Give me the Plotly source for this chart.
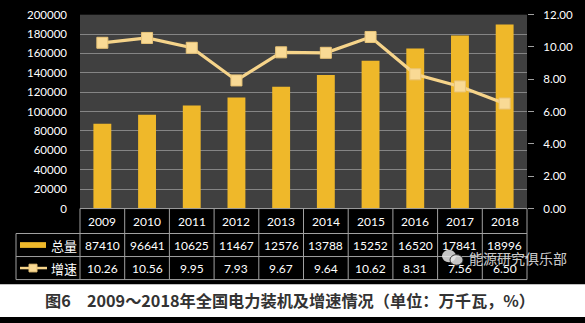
import plotly.graph_objects as go

W, H = 585, 323

years = ["2009", "2010", "2011", "2012", "2013", "2014", "2015", "2016", "2017", "2018"]
capacity = [87410, 96641, 106253, 114676, 125768, 137887, 152527, 165200, 178410, 189960]
growth = [10.26, 10.56, 9.95, 7.93, 9.67, 9.64, 10.62, 8.31, 7.56, 6.50]
left_ticks = [0, 20000, 40000, 60000, 80000, 100000, 120000, 140000, 160000, 180000, 200000]
right_ticks = [0, 2, 4, 6, 8, 10, 12]

# pixel geometry of the plot frame and table
PX_L, PX_R, PX_T, PX_B = 80, 527, 8, 210
ROW_Y = [210, 236, 260, 284]
TABLE_L = 16
BLACK_B = 289

def px(x):
    return x / W

def py(y):
    return 1 - y / H

BAR = "#EFB82A"
LINE = "#F6D48A"
FONT = "Lato, 'Open Sans', sans-serif"
CJK = "Noto Sans CJK SC"

fig = go.Figure()
fig.add_trace(go.Bar(
    x=years, y=capacity, marker=dict(color=BAR, line=dict(width=0)),
    width=0.4, yaxis="y", showlegend=False,
))
fig.add_trace(go.Scatter(
    x=years, y=growth, yaxis="y2", mode="lines+markers",
    line=dict(color=LINE, width=3.2),
    marker=dict(symbol="square", size=11, color="#F9DA95",
                line=dict(color="#E8C478", width=1)),
    showlegend=False,
))

shapes = []
annotations = []

def note(x, y, text, size, color="white", family=FONT, xanchor="center", xref="paper"):
    annotations.append(dict(x=x, xref=xref, y=py(y), yref="paper", text=text,
                            xanchor=xanchor, yanchor="middle", showarrow=False,
                            font=dict(color=color, size=size, family=family)))

# white caption strip under the black canvas
shapes.append(dict(type="rect", xref="paper", yref="paper", x0=0, x1=1,
                   y0=0, y1=py(BLACK_B), fillcolor="white", line=dict(width=0),
                   layer="below"))

# data table grid
GRID = "#A0A0A0"
for i, yv in enumerate(ROW_Y):
    x0 = PX_L if i == 0 else TABLE_L
    shapes.append(dict(type="line", xref="paper", yref="paper",
                       x0=px(x0), x1=px(PX_R), y0=py(yv), y1=py(yv),
                       line=dict(color=GRID, width=1)))
colw = (PX_R - PX_L) / len(years)
for k in range(len(years) + 1):
    xv = PX_L + k * colw
    shapes.append(dict(type="line", xref="paper", yref="paper",
                       x0=px(xv), x1=px(xv), y0=py(ROW_Y[0]), y1=py(ROW_Y[3]),
                       line=dict(color=GRID, width=1)))
shapes.append(dict(type="line", xref="paper", yref="paper",
                   x0=px(TABLE_L), x1=px(TABLE_L), y0=py(ROW_Y[1]), y1=py(ROW_Y[3]),
                   line=dict(color=GRID, width=1)))

row_mid = [(ROW_Y[i] + ROW_Y[i + 1]) / 2 for i in range(3)]
for i, (yr, cap, g) in enumerate(zip(years, capacity, growth)):
    note(i, row_mid[0], yr, 12, xref="x")
    note(i, row_mid[1], str(cap)[:5], 12, xref="x")
    note(i, row_mid[2], f"{g:.2f}", 12, xref="x")

# legend keys inside the table
shapes.append(dict(type="rect", xref="paper", yref="paper",
                   x0=px(20), x1=px(46), y0=py(row_mid[1] + 3), y1=py(row_mid[1] - 3),
                   fillcolor=BAR, line=dict(width=0)))
shapes.append(dict(type="line", xref="paper", yref="paper",
                   x0=px(20), x1=px(47), y0=py(row_mid[2]), y1=py(row_mid[2]),
                   line=dict(color=LINE, width=2.5)))
shapes.append(dict(type="rect", xref="paper", yref="paper",
                   x0=px(29), x1=px(37), y0=py(row_mid[2] + 4), y1=py(row_mid[2] - 4),
                   fillcolor="#F9DA95", line=dict(color="#E8C478", width=1)))
note(px(49), row_mid[1], "总量", 13, family=CJK, xanchor="left")
note(px(49), row_mid[2], "增速", 13, family=CJK, xanchor="left")

# watermark: chat-bubble icon and account name
shapes.append(dict(type="circle", xref="paper", yref="paper",
                   x0=px(442), x1=px(456), y0=py(266), y1=py(253),
                   fillcolor="rgba(230,230,230,0.85)", line=dict(width=0)))
shapes.append(dict(type="circle", xref="paper", yref="paper",
                   x0=px(450), x1=px(463), y0=py(269), y1=py(258),
                   fillcolor="rgba(230,230,230,0.85)", line=dict(color="rgba(40,40,40,0.9)", width=1)))
note(px(467), 262, "能源研究俱乐部", 14, color="rgba(230,230,230,0.9)", family=CJK, xanchor="left")

# caption
note(px(290), 305, "<b>图6　2009～2018年全国电力装机及增速情况（单位：万千瓦，%）</b>",
     16.2, color="#333333", family=CJK)

fig.update_layout(
    width=W, height=H, margin=dict(l=0, r=0, t=0, b=0),
    paper_bgcolor="black", plot_bgcolor="#404040",
    xaxis=dict(domain=[px(PX_L), px(PX_R)], showticklabels=False, showgrid=False,
               zeroline=False, showline=False, type="category",
               range=[-0.5, len(years) - 0.5], autorange=False),
    yaxis=dict(domain=[py(PX_B), py(PX_T)], range=[0, 200000], tickvals=left_ticks,
               ticktext=[str(v) for v in left_ticks], showgrid=True, gridcolor="#858585",
               gridwidth=1, zeroline=False, showline=False, ticklabeloverflow="allow",
               tickfont=dict(color="white", size=11.5, family=FONT), ticklabelstandoff=12),
    yaxis2=dict(overlaying="y", side="right", range=[0, 12], tickvals=right_ticks,
                ticktext=[f"{v:.2f}" for v in right_ticks], showgrid=False, zeroline=False,
                ticks="outside", ticklen=6, tickcolor="#A0A0A0", ticklabeloverflow="allow",
                tickfont=dict(color="white", size=11.5, family=FONT), ticklabelstandoff=7),
    shapes=shapes, annotations=annotations,
)

fig.write_html("out.html")
